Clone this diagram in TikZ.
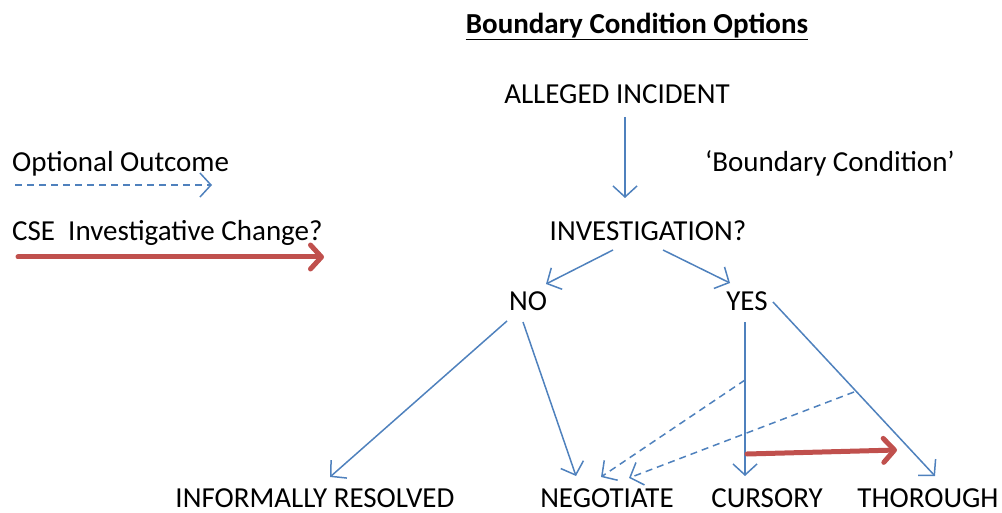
\documentclass[tikz,border=0pt]{standalone}
\usepackage{fontspec}
\setmainfont{Carlito}
\usetikzlibrary{arrows.meta}
\definecolor{flowblue}{HTML}{4F81BD}
\definecolor{changered}{HTML}{C0504D}
\begin{document}
\begin{tikzpicture}[x=1pt,y=-1pt,
  lbl/.style={inner sep=0pt, anchor=base, font=\fontsize{29}{34}\selectfont, text=black},
  flow/.style={draw=flowblue, line width=1.5pt, -{Straight Barb[length=11pt,width=24pt,line width=1.5pt]}},
  optional/.style={flow, dash pattern=on 7pt off 5pt},
  change/.style={draw=changered, line width=5pt, line cap=round,
    -{Straight Barb[length=11pt,width=24pt,line width=5pt,round]}}]
  \useasboundingbox (0,0) rectangle (1002,513);

  % title with its underline
  \node[lbl, font=\fontsize{29}{34}\selectfont\bfseries] (title) at (637,34) {Boundary Condition Options};
  \draw[line width=1.6pt] (title.base west) ++(0,5.5) -- ([yshift=-5.5pt]title.base east);

  % legend
  \node[lbl, anchor=base west] (optlbl) at (12,172) {Optional Outcome};
  \coordinate (optA) at (15,185);
  \coordinate (optB) at (212,185);
  \draw[optional] (optA) -- (optB);
  \node[lbl, anchor=base west] (cselbl) at (12,241) {CSE\ \ Investigative Change?};
  \coordinate (cseA) at (18,257);
  \coordinate (cseB) at (324,257);
  \draw[change] (cseA) -- (cseB);

  % tree nodes
  \node[lbl] (incident) at (617,104) {ALLEGED INCIDENT};
  \node[lbl] (bcond) at (830,172) {‘Boundary Condition’};
  \node[lbl] (invest) at (648,241) {INVESTIGATION?};
  \node[lbl] (no) at (528,310) {NO};
  \node[lbl] (yes) at (747,310) {YES};
  \node[lbl] (informal) at (315,507) {INFORMALLY RESOLVED};
  \node[lbl] (negotiate) at (607,507) {NEGOTIATE};
  \node[lbl] (cursory) at (767,507) {CURSORY};
  \node[lbl] (thorough) at (928,507) {THOROUGH};

  % connector end points
  \coordinate (incOut) at (625,117);
  \coordinate (invIn) at (625,198);
  \coordinate (invOutL) at (613,250);
  \coordinate (noIn) at (546,284);
  \coordinate (invOutR) at (663,250);
  \coordinate (yesIn) at (730,283);
  \coordinate (noOutL) at (507,321);
  \coordinate (infIn) at (330,477);
  \coordinate (noOutR) at (523,322);
  \coordinate (negIn) at (576,476);
  \coordinate (yesOutD) at (745,322);
  \coordinate (curIn) at (745,476);
  \coordinate (yesOutR) at (773,302);
  \coordinate (thoIn) at (935,476);
  \coordinate (optC) at (745,380);
  \coordinate (negInA) at (601,477);
  \coordinate (optD) at (854,392);
  \coordinate (negInB) at (629,478);
  \coordinate (chgA) at (747,454);
  \coordinate (chgB) at (897,450);

  % connectors
  \draw[flow] (incOut) -- (invIn);
  \draw[flow] (invOutL) -- (noIn);
  \draw[flow] (invOutR) -- (yesIn);
  \draw[flow] (noOutL) -- (infIn);
  \draw[flow] (noOutR) -- (negIn);
  \draw[flow] (yesOutD) -- (curIn);
  \draw[flow] (yesOutR) -- (thoIn);
  \draw[optional] (optC) -- (negInA);
  \draw[optional] (optD) -- (negInB);
  \draw[change] (chgA) -- (chgB);
\end{tikzpicture}
\end{document}
